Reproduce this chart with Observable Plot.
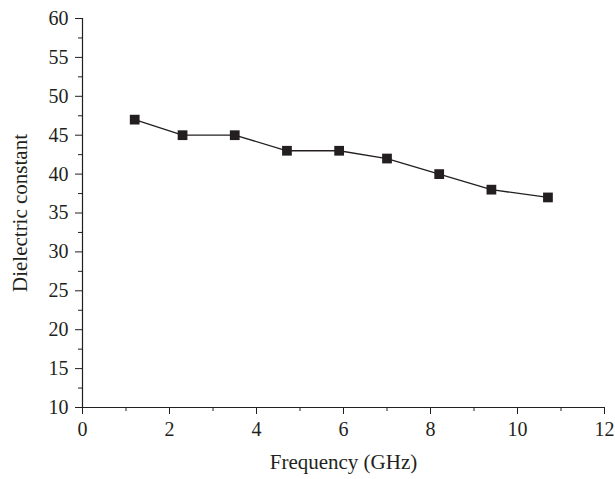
<!DOCTYPE html>
<html><head><meta charset="utf-8">
<script src="https://cdn.jsdelivr.net/npm/d3@7"></script>
<script src="https://cdn.jsdelivr.net/npm/@observablehq/plot@0.6"></script>
<style>body{margin:0;background:#fff;} svg{font-family:"Liberation Serif",serif;}</style>
</head><body><div id="chart"></div>
<script>
const frequency = [1.2, 2.3, 3.5, 4.7, 5.9, 7.0, 8.2, 9.4, 10.7];
const dielectric = [47, 45, 45, 43, 43, 42, 40, 38, 37];
const xTicks = [0, 2, 4, 6, 8, 10, 12];
const xMinor = [1, 3, 5, 7, 9, 11];
const yTicks = [10, 15, 20, 25, 30, 35, 40, 45, 50, 55, 60];
const yMinor = [12.5, 17.5, 22.5, 27.5, 32.5, 37.5, 42.5, 47.5, 52.5, 57.5];
const data = frequency.map((f, i) => ({f, d: dielectric[i]}));

const ink = "#231f20";
const chart = Plot.plot({
  width: 615, height: 479,
  marginLeft: 82, marginRight: 11, marginTop: 18, marginBottom: 72,
  style: {fontFamily: "Liberation Serif, serif", fontSize: "20px", color: ink},
  x: {domain: [0, 12]},
  y: {domain: [10, 60]},
  marks: [
    Plot.axisX({ticks: xTicks, tickSize: 7, tickPadding: 7, fontSize: 20, label: null, stroke: ink}),
    Plot.axisX({ticks: xMinor, tickSize: 4, text: null, label: null, stroke: ink}),
    Plot.axisY({ticks: yTicks, tickSize: 7, tickPadding: 7, fontSize: 20, label: null, stroke: ink}),
    Plot.axisY({ticks: yMinor, tickSize: 4, text: null, label: null, stroke: ink}),
    Plot.ruleX([0], {stroke: ink, strokeWidth: 1.2}),
    Plot.ruleY([10], {stroke: ink, strokeWidth: 1.2}),
    Plot.text(["Frequency (GHz)"], {frameAnchor: "bottom", dy: 61, fontSize: 21, fill: ink}),
    Plot.text(["Dielectric constant"], {frameAnchor: "left", dx: -62, rotate: -90, textAnchor: "middle", fontSize: 21, fill: ink}),
    Plot.line(data, {x: "f", y: "d", stroke: ink, strokeWidth: 1.3}),
    Plot.dot(data, {x: "f", y: "d", symbol: "square", r: 5.5, fill: ink, stroke: "none"})
  ]
});
document.getElementById("chart").append(chart);
</script></body></html>
